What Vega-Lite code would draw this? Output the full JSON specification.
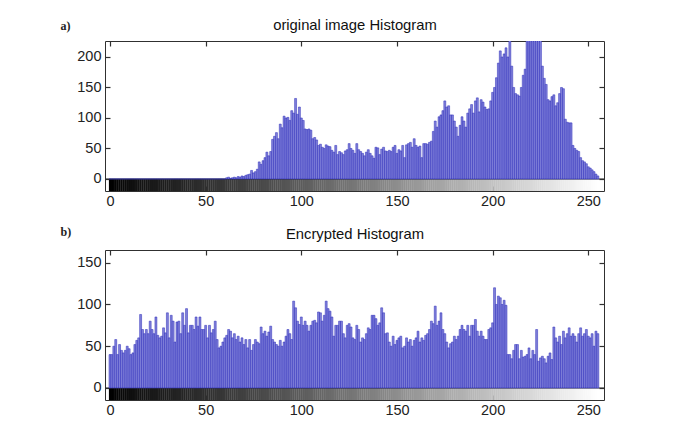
{
"$schema": "https://vega.github.io/schema/vega-lite/v6.json",
"padding": {"left": 59, "top": 11, "right": 0, "bottom": 0},
"background": "white",
"config": {
  "view": {"stroke": "#303030", "strokeWidth": 1},
  "font": "Liberation Sans",
  "axis": {"grid": false, "domain": false, "labelFont": "Liberation Sans", "labelFontSize": 14.5, "labelColor": "#222222", "tickColor": "#303030", "tickSize": -5, "tickWidth": 1.2}
},
"datasets": {"h": [
{"level":0,"orig":0,"enc":40},{"level":1,"orig":0,"enc":40},{"level":2,"orig":0,"enc":50},{"level":3,"orig":0,"enc":58},{"level":4,"orig":0,"enc":40},{"level":5,"orig":0,"enc":52},{"level":6,"orig":0,"enc":45},{"level":7,"orig":0,"enc":42},{"level":8,"orig":0,"enc":45},{"level":9,"orig":0,"enc":50},
{"level":10,"orig":0,"enc":47},{"level":11,"orig":0,"enc":40},{"level":12,"orig":0,"enc":42},{"level":13,"orig":0,"enc":52},{"level":14,"orig":0,"enc":57},{"level":15,"orig":0,"enc":60},{"level":16,"orig":0,"enc":88},{"level":17,"orig":0,"enc":70},{"level":18,"orig":0,"enc":65},{"level":19,"orig":0,"enc":70},
{"level":20,"orig":0,"enc":65},{"level":21,"orig":0,"enc":80},{"level":22,"orig":0,"enc":70},{"level":23,"orig":0,"enc":65},{"level":24,"orig":0,"enc":85},{"level":25,"orig":0,"enc":63},{"level":26,"orig":0,"enc":60},{"level":27,"orig":0,"enc":62},{"level":28,"orig":0,"enc":72},{"level":29,"orig":0,"enc":66},
{"level":30,"orig":0,"enc":90},{"level":31,"orig":0,"enc":60},{"level":32,"orig":0,"enc":87},{"level":33,"orig":0,"enc":80},{"level":34,"orig":0,"enc":55},{"level":35,"orig":0,"enc":79},{"level":36,"orig":0,"enc":80},{"level":37,"orig":0,"enc":65},{"level":38,"orig":0,"enc":90},{"level":39,"orig":0,"enc":75},
{"level":40,"orig":0,"enc":95},{"level":41,"orig":0,"enc":66},{"level":42,"orig":0,"enc":75},{"level":43,"orig":0,"enc":75},{"level":44,"orig":0,"enc":70},{"level":45,"orig":0,"enc":85},{"level":46,"orig":0,"enc":74},{"level":47,"orig":0,"enc":85},{"level":48,"orig":0,"enc":70},{"level":49,"orig":0,"enc":70},
{"level":50,"orig":0,"enc":75},{"level":51,"orig":0,"enc":60},{"level":52,"orig":0,"enc":75},{"level":53,"orig":0,"enc":66},{"level":54,"orig":0,"enc":70},{"level":55,"orig":0,"enc":80},{"level":56,"orig":0,"enc":58},{"level":57,"orig":0,"enc":48},{"level":58,"orig":0,"enc":50},{"level":59,"orig":0,"enc":55},
{"level":60,"orig":0,"enc":60},{"level":61,"orig":2,"enc":63},{"level":62,"orig":3,"enc":70},{"level":63,"orig":1,"enc":68},{"level":64,"orig":2,"enc":60},{"level":65,"orig":3,"enc":65},{"level":66,"orig":2,"enc":58},{"level":67,"orig":4,"enc":62},{"level":68,"orig":3,"enc":55},{"level":69,"orig":5,"enc":60},
{"level":70,"orig":4,"enc":52},{"level":71,"orig":6,"enc":58},{"level":72,"orig":7,"enc":48},{"level":73,"orig":8,"enc":58},{"level":74,"orig":14,"enc":45},{"level":75,"orig":10,"enc":52},{"level":76,"orig":12,"enc":58},{"level":77,"orig":16,"enc":55},{"level":78,"orig":28,"enc":53},{"level":79,"orig":24,"enc":73},
{"level":80,"orig":30,"enc":65},{"level":81,"orig":35,"enc":68},{"level":82,"orig":44,"enc":62},{"level":83,"orig":38,"enc":67},{"level":84,"orig":45,"enc":74},{"level":85,"orig":65,"enc":58},{"level":86,"orig":70,"enc":55},{"level":87,"orig":76,"enc":52},{"level":88,"orig":66,"enc":50},{"level":89,"orig":90,"enc":57},
{"level":90,"orig":84,"enc":50},{"level":91,"orig":103,"enc":55},{"level":92,"orig":100,"enc":62},{"level":93,"orig":101,"enc":70},{"level":94,"orig":96,"enc":65},{"level":95,"orig":112,"enc":58},{"level":96,"orig":108,"enc":104},{"level":97,"orig":132,"enc":96},{"level":98,"orig":106,"enc":80},{"level":99,"orig":118,"enc":76},
{"level":100,"orig":100,"enc":85},{"level":101,"orig":96,"enc":75},{"level":102,"orig":82,"enc":80},{"level":103,"orig":81,"enc":75},{"level":104,"orig":82,"enc":68},{"level":105,"orig":80,"enc":75},{"level":106,"orig":66,"enc":80},{"level":107,"orig":68,"enc":81},{"level":108,"orig":64,"enc":78},{"level":109,"orig":55,"enc":91},
{"level":110,"orig":57,"enc":90},{"level":111,"orig":52,"enc":80},{"level":112,"orig":50,"enc":87},{"level":113,"orig":56,"enc":104},{"level":114,"orig":54,"enc":95},{"level":115,"orig":53,"enc":92},{"level":116,"orig":47,"enc":85},{"level":117,"orig":44,"enc":62},{"level":118,"orig":55,"enc":75},{"level":119,"orig":40,"enc":75},
{"level":120,"orig":45,"enc":80},{"level":121,"orig":43,"enc":80},{"level":122,"orig":40,"enc":65},{"level":123,"orig":46,"enc":60},{"level":124,"orig":48,"enc":75},{"level":125,"orig":58,"enc":77},{"level":126,"orig":50,"enc":73},{"level":127,"orig":47,"enc":60},{"level":128,"orig":42,"enc":58},{"level":129,"orig":58,"enc":75},
{"level":130,"orig":48,"enc":70},{"level":131,"orig":45,"enc":55},{"level":132,"orig":42,"enc":60},{"level":133,"orig":38,"enc":58},{"level":134,"orig":44,"enc":65},{"level":135,"orig":48,"enc":72},{"level":136,"orig":42,"enc":70},{"level":137,"orig":38,"enc":87},{"level":138,"orig":34,"enc":87},{"level":139,"orig":52,"enc":83},
{"level":140,"orig":51,"enc":75},{"level":141,"orig":40,"enc":78},{"level":142,"orig":49,"enc":96},{"level":143,"orig":52,"enc":90},{"level":144,"orig":46,"enc":65},{"level":145,"orig":45,"enc":66},{"level":146,"orig":47,"enc":55},{"level":147,"orig":45,"enc":50},{"level":148,"orig":52,"enc":62},{"level":149,"orig":55,"enc":52},
{"level":150,"orig":42,"enc":57},{"level":151,"orig":48,"enc":60},{"level":152,"orig":46,"enc":62},{"level":153,"orig":55,"enc":48},{"level":154,"orig":35,"enc":50},{"level":155,"orig":56,"enc":60},{"level":156,"orig":58,"enc":55},{"level":157,"orig":60,"enc":58},{"level":158,"orig":52,"enc":50},{"level":159,"orig":66,"enc":57},
{"level":160,"orig":55,"enc":60},{"level":161,"orig":52,"enc":68},{"level":162,"orig":54,"enc":55},{"level":163,"orig":35,"enc":60},{"level":164,"orig":58,"enc":57},{"level":165,"orig":58,"enc":63},{"level":166,"orig":57,"enc":65},{"level":167,"orig":60,"enc":70},{"level":168,"orig":62,"enc":80},{"level":169,"orig":78,"enc":77},
{"level":170,"orig":95,"enc":98},{"level":171,"orig":85,"enc":75},{"level":172,"orig":102,"enc":80},{"level":173,"orig":105,"enc":90},{"level":174,"orig":112,"enc":70},{"level":175,"orig":128,"enc":65},{"level":176,"orig":118,"enc":55},{"level":177,"orig":120,"enc":48},{"level":178,"orig":105,"enc":53},{"level":179,"orig":105,"enc":55},
{"level":180,"orig":95,"enc":62},{"level":181,"orig":85,"enc":58},{"level":182,"orig":70,"enc":62},{"level":183,"orig":88,"enc":70},{"level":184,"orig":102,"enc":75},{"level":185,"orig":95,"enc":70},{"level":186,"orig":85,"enc":68},{"level":187,"orig":108,"enc":75},{"level":188,"orig":115,"enc":62},{"level":189,"orig":122,"enc":75},
{"level":190,"orig":108,"enc":75},{"level":191,"orig":128,"enc":82},{"level":192,"orig":133,"enc":68},{"level":193,"orig":110,"enc":62},{"level":194,"orig":130,"enc":68},{"level":195,"orig":126,"enc":62},{"level":196,"orig":118,"enc":58},{"level":197,"orig":114,"enc":58},{"level":198,"orig":115,"enc":70},{"level":199,"orig":128,"enc":72},
{"level":200,"orig":142,"enc":78},{"level":201,"orig":150,"enc":120},{"level":202,"orig":166,"enc":100},{"level":203,"orig":190,"enc":110},{"level":204,"orig":210,"enc":108},{"level":205,"orig":200,"enc":100},{"level":206,"orig":205,"enc":105},{"level":207,"orig":215,"enc":99},{"level":208,"orig":200,"enc":40},{"level":209,"orig":240,"enc":40},
{"level":210,"orig":185,"enc":35},{"level":211,"orig":150,"enc":45},{"level":212,"orig":140,"enc":52},{"level":213,"orig":138,"enc":52},{"level":214,"orig":136,"enc":35},{"level":215,"orig":150,"enc":45},{"level":216,"orig":170,"enc":37},{"level":217,"orig":180,"enc":38},{"level":218,"orig":240,"enc":40},{"level":219,"orig":250,"enc":48},
{"level":220,"orig":260,"enc":35},{"level":221,"orig":270,"enc":45},{"level":222,"orig":255,"enc":40},{"level":223,"orig":265,"enc":70},{"level":224,"orig":250,"enc":32},{"level":225,"orig":235,"enc":36},{"level":226,"orig":185,"enc":38},{"level":227,"orig":165,"enc":35},{"level":228,"orig":155,"enc":30},{"level":229,"orig":130,"enc":38},
{"level":230,"orig":128,"enc":42},{"level":231,"orig":135,"enc":34},{"level":232,"orig":138,"enc":73},{"level":233,"orig":120,"enc":60},{"level":234,"orig":125,"enc":55},{"level":235,"orig":140,"enc":62},{"level":236,"orig":150,"enc":52},{"level":237,"orig":148,"enc":68},{"level":238,"orig":98,"enc":60},{"level":239,"orig":93,"enc":65},
{"level":240,"orig":92,"enc":72},{"level":241,"orig":92,"enc":62},{"level":242,"orig":55,"enc":65},{"level":243,"orig":50,"enc":62},{"level":244,"orig":47,"enc":55},{"level":245,"orig":45,"enc":65},{"level":246,"orig":35,"enc":72},{"level":247,"orig":30,"enc":62},{"level":248,"orig":28,"enc":65},{"level":249,"orig":25,"enc":70},
{"level":250,"orig":20,"enc":62},{"level":251,"orig":18,"enc":60},{"level":252,"orig":15,"enc":65},{"level":253,"orig":12,"enc":50},{"level":254,"orig":8,"enc":68},{"level":255,"orig":5,"enc":65}
]},
"spacing": 59,
"bounds": "flush",
"vconcat": [
{
  "width": 499, "height": 150,
  "data": {"name": "h"},
  "layer": [
    {"mark": {"type": "bar", "orient": "vertical", "width": 2.2},
     "encoding": {
       "x": {"field": "level", "type": "quantitative", "scale": {"domain": [0, 255.6], "nice": false, "zero": false}, "axis": null},
       "y": {"datum": 0, "type": "quantitative", "scale": {"domain": [-19.7, 226.2], "nice": false, "zero": false}, "axis": null},
       "y2": {"datum": -19.7},
       "color": {"field": "level", "type": "quantitative", "scale": {"domain": [0, 255], "range": ["#000000", "#ffffff"]}, "legend": null}
     }},
    {"data": {"values": [{"k": 1}]},
     "mark": {"type": "rule", "color": "#303030", "strokeWidth": 1},
     "encoding": {"y": {"datum": 0, "type": "quantitative", "axis": null}}},
    {"mark": {"type": "bar", "orient": "vertical", "width": 1.95, "clip": true, "fill": "#8282da", "stroke": "#2828b8", "strokeWidth": 0.5},
     "encoding": {
       "x": {"field": "level", "type": "quantitative", "scale": {"domain": [0, 255.6], "nice": false, "zero": false},
             "axis": {"orient": "bottom", "values": [0, 50, 100, 150, 200, 250], "title": null, "labelPadding": 8}},
       "y": {"field": "orig", "type": "quantitative", "scale": {"domain": [-19.7, 226.2], "nice": false, "zero": false},
             "axis": {"orient": "left", "values": [0, 50, 100, 150, 200], "labelPadding": 9, "title": "a)", "titleFont": "Liberation Serif", "titleFontWeight": "bold", "titleFontSize": 12, "titleColor": "#222222", "titleAngle": 0, "titleAlign": "left", "titleBaseline": "middle", "titleX": -45, "titleY": -16}}
     }},
    {"mark": {"type": "point", "opacity": 0},
     "encoding": {
       "x": {"field": "level", "type": "quantitative", "axis": {"orient": "top", "values": [0, 50, 100, 150, 200, 250], "labels": false, "title": "original image Histogram", "titleFont": "Liberation Sans", "titleFontSize": 14.8, "titleFontWeight": "normal", "titleColor": "#111111", "titleBaseline": "alphabetic", "titleY": -12}},
       "y": {"field": "orig", "type": "quantitative", "axis": {"orient": "right", "values": [0, 50, 100, 150, 200], "labels": false, "title": null}}
     }}
  ],
  "resolve": {"axis": {"x": "independent", "y": "independent"}}
},
{
  "width": 499, "height": 150,
  "data": {"name": "h"},
  "layer": [
    {"mark": {"type": "bar", "orient": "vertical", "width": 2.2},
     "encoding": {
       "x": {"field": "level", "type": "quantitative", "scale": {"domain": [0, 255.6], "nice": false, "zero": false}, "axis": null},
       "y": {"datum": 0, "type": "quantitative", "scale": {"domain": [-14.4, 165.2], "nice": false, "zero": false}, "axis": null},
       "y2": {"datum": -14.4},
       "color": {"field": "level", "type": "quantitative", "scale": {"domain": [0, 255], "range": ["#000000", "#ffffff"]}, "legend": null}
     }},
    {"data": {"values": [{"k": 1}]},
     "mark": {"type": "rule", "color": "#303030", "strokeWidth": 1},
     "encoding": {"y": {"datum": 0, "type": "quantitative", "axis": null}}},
    {"mark": {"type": "bar", "orient": "vertical", "width": 1.95, "clip": true, "fill": "#8282da", "stroke": "#2828b8", "strokeWidth": 0.5},
     "encoding": {
       "x": {"field": "level", "type": "quantitative", "scale": {"domain": [0, 255.6], "nice": false, "zero": false},
             "axis": {"orient": "bottom", "values": [0, 50, 100, 150, 200, 250], "title": null, "labelPadding": 8}},
       "y": {"field": "enc", "type": "quantitative", "scale": {"domain": [-14.4, 165.2], "nice": false, "zero": false},
             "axis": {"orient": "left", "values": [0, 50, 100, 150], "labelPadding": 9, "title": "b)", "titleFont": "Liberation Serif", "titleFontWeight": "bold", "titleFontSize": 12, "titleColor": "#222222", "titleAngle": 0, "titleAlign": "left", "titleBaseline": "middle", "titleX": -45, "titleY": -19}}
     }},
    {"mark": {"type": "point", "opacity": 0},
     "encoding": {
       "x": {"field": "level", "type": "quantitative", "axis": {"orient": "top", "values": [0, 50, 100, 150, 200, 250], "labels": false, "title": "Encrypted Histogram", "titleFont": "Liberation Sans", "titleFontSize": 14.8, "titleFontWeight": "normal", "titleColor": "#111111", "titleBaseline": "alphabetic", "titleY": -12}},
       "y": {"field": "enc", "type": "quantitative", "axis": {"orient": "right", "values": [0, 50, 100, 150], "labels": false, "title": null}}
     }}
  ],
  "resolve": {"axis": {"x": "independent", "y": "independent"}}
}
]
}
